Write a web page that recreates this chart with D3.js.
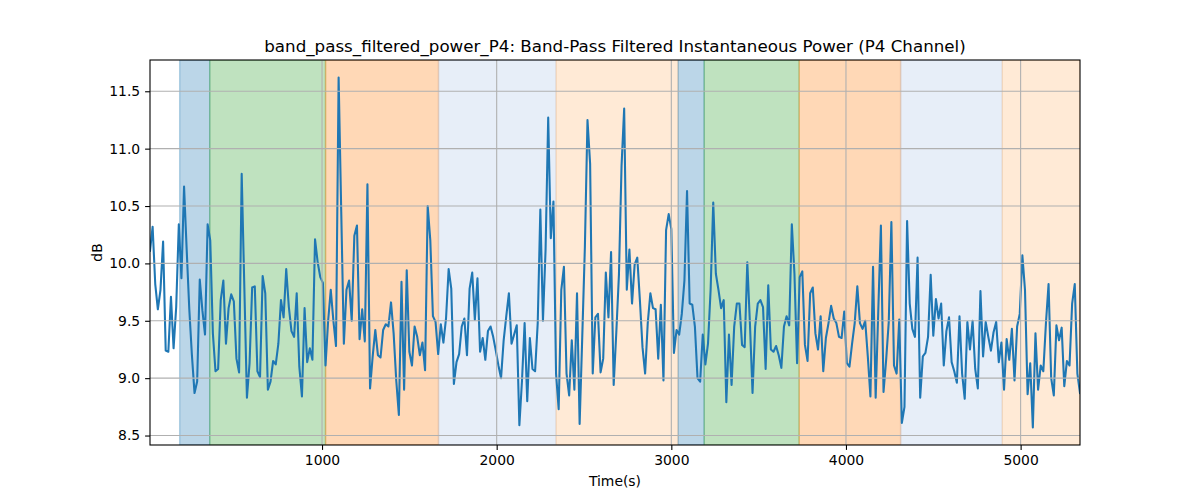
<!DOCTYPE html>
<html>
<head>
<meta charset="utf-8">
<script src="https://cdn.jsdelivr.net/npm/d3@7"></script>
<style>
  html, body { margin: 0; padding: 0; background: #fff; }
  svg { display: block; font-family: "DejaVu Sans", sans-serif; }
</style>
</head>
<body>
<svg id="chart" width="1200" height="500"></svg>
<script>
// ---- data ----
const chartTitle = "band_pass_filtered_power_P4: Band-Pass Filtered Instantaneous Power (P4 Channel)";
const xLabel = "Time(s)";
const yLabel = "dB";

const sampleStart = 15;   // seconds
const sampleStep = 15;    // seconds

const values = [
  10.11, 10.32, 9.82, 9.60, 9.77, 10.19, 9.24, 9.23, 9.71, 9.26,
  9.62, 10.34, 9.87, 10.67, 10.12, 9.6, 9.2, 8.87, 8.97, 9.86,
  9.59, 9.38, 10.34, 10.2, 9.39, 9.06, 9.08, 9.68, 9.85, 9.30,
  9.61, 9.73, 9.67, 9.17, 9.05, 10.78, 9.8, 8.83, 9.13, 9.79,
  9.80, 9.06, 9.01, 9.89, 9.74, 8.90, 8.97, 9.15, 9.12, 9.30,
  9.68, 9.53, 9.95, 9.62, 9.41, 9.36, 9.74, 9.10, 8.84, 9.61,
  9.14, 9.26, 9.16, 10.21, 10.01, 9.88, 9.83, 9.11, 9.50, 9.77,
  9.50, 9.28, 11.62, 10.45, 9.30, 9.77, 9.85, 9.50, 10.24, 10.33,
  9.34, 9.60, 9.32, 10.69, 8.91, 9.19, 9.42, 9.20, 9.18, 9.42,
  9.47, 9.45, 9.66, 9.39, 8.98, 8.68, 9.84, 8.90, 9.94, 9.23,
  9.11, 9.45, 9.36, 9.20, 9.31, 9.07, 10.50, 10.2, 9.54, 9.49,
  9.21, 9.47, 9.31, 9.52, 9.95, 9.78, 8.95, 9.14, 9.21, 9.45,
  9.52, 9.20, 9.78, 9.92, 9.51, 9.87, 9.23, 9.35, 9.16, 9.41,
  9.45, 9.36, 9.24, 9.11, 9.0, 9.33, 9.54, 9.74, 9.30, 9.38,
  9.46, 8.59, 8.98, 9.48, 8.80, 9.35, 9.08, 9.06, 9.48, 10.47,
  9.50, 10.12, 11.27, 10.22, 10.54, 9.04, 8.73, 9.77, 9.97, 9.04,
  8.85, 9.33, 8.90, 9.74, 8.60, 9.36, 10.14, 11.25, 10.87, 9.04,
  9.53, 9.56, 9.05, 9.17, 9.92, 9.53, 10.10, 8.94, 9.4, 9.9,
  10.85, 11.35, 9.77, 10.12, 9.65, 9.99, 10.05, 9.68, 9.27, 9.04,
  9.48, 9.74, 9.61, 9.60, 9.17, 9.64, 8.98, 10.29, 10.43, 10.30,
  9.22, 9.42, 9.38, 9.56, 9.85, 10.63, 9.65, 9.64, 9.45, 9.0,
  8.97, 9.38, 9.12, 9.30, 9.77, 10.53, 9.91, 9.77, 9.61, 9.68,
  8.79, 9.38, 8.94, 9.45, 9.65, 9.65, 9.29, 9.27, 10.01, 9.48,
  8.87, 9.45, 9.65, 9.68, 9.62, 9.08, 9.81, 9.25, 9.23, 9.28,
  9.20, 9.09, 9.45, 9.54, 9.46, 10.34, 9.91, 9.13, 9.88, 9.93,
  9.29, 9.15, 9.74, 9.79, 9.39, 9.25, 9.54, 9.06, 9.35, 9.48,
  9.63, 9.52, 9.48, 9.36, 9.35, 9.58, 9.13, 9.10, 9.3, 9.48,
  9.80, 9.48, 9.43, 9.50, 9.19, 8.84, 9.97, 8.83, 9.59, 10.33,
  8.88, 9.16, 9.49, 10.36, 9.11, 9.04, 9.51, 8.61, 8.75, 10.37,
  9.65, 9.43, 9.36, 10.05, 8.83, 9.19, 9.22, 9.36, 9.90, 9.37,
  9.69, 9.52, 9.65, 9.11, 9.41, 9.53, 9.14, 9.06, 8.96, 9.54,
  9.04, 8.82, 9.49, 9.25, 9.50, 9.08, 8.91, 9.76, 9.19, 9.49,
  9.36, 9.24, 9.40, 9.49, 9.14, 9.31, 8.90, 9.34, 9.16, 9.43,
  8.98, 9.45, 9.56, 10.07, 9.77, 8.86, 9.13, 8.57, 9.39, 8.90,
  9.11, 9.06, 9.48, 9.82, 9.0, 8.85, 9.46, 9.33, 9.44, 8.93,
  9.15, 9.11, 9.65, 9.82, 9.04, 8.87
];

// shaded phases
const spanStarts = [185, 357, 1020, 1667, 2340, 3039, 3188, 3732, 4313, 4895];
const spanEnds   = [357, 1020, 1667, 2340, 3039, 3188, 3732, 4313, 4895, 5340];
const spanPhases = ["p1", "p2", "p3", "p4", "p5", "p1", "p2", "p3", "p4", "p5"];

const xTicks = [1000, 2000, 3000, 4000, 5000];
const yTicks = [8.5, 9.0, 9.5, 10.0, 10.5, 11.0, 11.5];

// ---- layout ----
const W = 1200, H = 500;
const margin = { left: 150, right: 120, top: 60, bottom: 55 };
const iw = W - margin.left - margin.right;   // 930
const ih = H - margin.top - margin.bottom;   // 385

const svg = d3.select("#chart");

const times = values.map((v, i) => sampleStart + sampleStep * i);
const series = values.map((v, i) => ({ t: times[i], v }));

const x = d3.scaleLinear()
  .domain([d3.min(times), d3.max(times)])
  .range([margin.left, margin.left + iw]);

const yPad = (d3.max(values) - d3.min(values)) * 0.05;
const y = d3.scaleLinear()
  .domain([d3.min(values) - yPad, d3.max(values) + yPad])
  .range([margin.top + ih, margin.top]);

const phaseColor = d3.scaleOrdinal()
  .domain(["p1", "p2", "p3", "p4", "p5"])
  .range(["#1f77b4", "#2ca02c", "#ff7f0e", "#aec7e8", "#ffbb78"]);

svg.append("defs").append("clipPath").attr("id", "clip")
  .append("rect")
  .attr("x", margin.left).attr("y", margin.top)
  .attr("width", iw).attr("height", ih);

const plot = svg.append("g").attr("clip-path", "url(#clip)");

// spans
const spans = spanStarts.map((s, i) => ({ s, e: spanEnds[i], p: spanPhases[i] }));
plot.selectAll("rect.span").data(spans).enter().append("rect")
  .attr("class", "span")
  .attr("x", d => x(d.s))
  .attr("width", d => x(d.e) - x(d.s))
  .attr("y", margin.top)
  .attr("height", ih)
  .attr("fill", d => phaseColor(d.p))
  .attr("fill-opacity", 0.3)
  .attr("stroke", d => phaseColor(d.p))
  .attr("stroke-opacity", 0.3)
  .attr("stroke-width", 1.4);

// grid
const grid = svg.append("g");
grid.selectAll("line.gx").data(xTicks).enter().append("line")
  .attr("x1", d => x(d)).attr("x2", d => x(d))
  .attr("y1", margin.top).attr("y2", margin.top + ih)
  .attr("stroke", "#b0b0b0").attr("stroke-width", 1.1);
grid.selectAll("line.gy").data(yTicks).enter().append("line")
  .attr("y1", d => y(d)).attr("y2", d => y(d))
  .attr("x1", margin.left).attr("x2", margin.left + iw)
  .attr("stroke", "#b0b0b0").attr("stroke-width", 1.1);

// line
const line = d3.line().x(d => x(d.t)).y(d => y(d.v));
plot.append("path")
  .datum(series)
  .attr("d", line)
  .attr("fill", "none")
  .attr("stroke", "#1f77b4")
  .attr("stroke-width", 2.08)
  .attr("stroke-linejoin", "round")
  .attr("stroke-linecap", "square");

// axes
const xAxis = d3.axisBottom(x).tickValues(xTicks).tickFormat(d3.format("d"))
  .tickSize(4.9).tickPadding(4.9);
const yAxis = d3.axisLeft(y).tickValues(yTicks).tickFormat(d3.format(".1f"))
  .tickSize(4.9).tickPadding(4.9);

const gx = svg.append("g").attr("transform", `translate(0,${margin.top + ih})`).call(xAxis);
const gy = svg.append("g").attr("transform", `translate(${margin.left},0)`).call(yAxis);
[gx, gy].forEach(g => {
  g.select(".domain").remove();
  g.selectAll(".tick line").attr("stroke", "#000").attr("stroke-width", 1.1);
  g.selectAll(".tick text")
    .attr("fill", "#000")
    .style("font-family", "DejaVu Sans")
    .style("font-size", "13.9px");
});

// frame
svg.append("rect")
  .attr("x", margin.left).attr("y", margin.top)
  .attr("width", iw).attr("height", ih)
  .attr("fill", "none").attr("stroke", "#000").attr("stroke-width", 1.1);

// labels
svg.append("text")
  .attr("x", margin.left + iw / 2).attr("y", 52)
  .attr("text-anchor", "middle")
  .style("font-size", "16.7px")
  .attr("fill", "#000")
  .text(chartTitle);

svg.append("text")
  .attr("x", margin.left + iw / 2).attr("y", 486)
  .attr("text-anchor", "middle")
  .style("font-size", "13.9px")
  .attr("fill", "#000")
  .text(xLabel);

svg.append("text")
  .attr("transform", `translate(102,${margin.top + ih / 2}) rotate(-90)`)
  .attr("text-anchor", "middle")
  .style("font-size", "13.9px")
  .attr("fill", "#000")
  .text(yLabel);
</script>
</body>
</html>
